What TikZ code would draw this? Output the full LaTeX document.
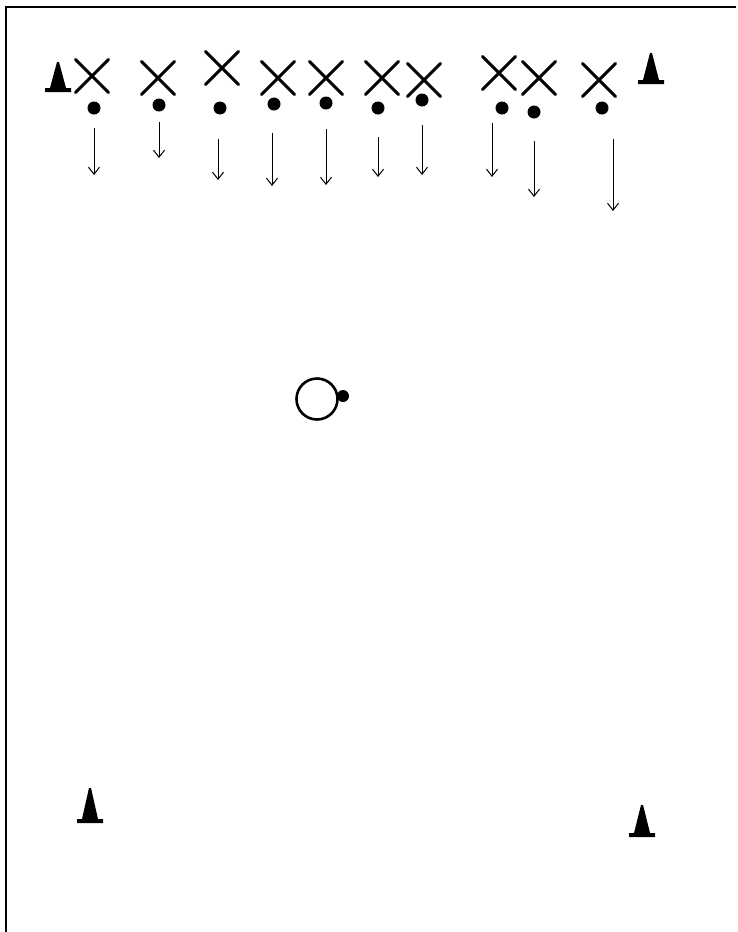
\documentclass[tikz,border=0pt]{standalone}
\usepackage{tikz}
\usetikzlibrary{shapes.misc,arrows.meta}

\tikzset{
  player/.style={cross out, draw, line width=3pt, line cap=round, minimum size=33pt, inner sep=0pt, outer sep=0pt},
  ball/.style={circle, fill, inner sep=0pt, minimum size=13pt},
  run/.style={line width=1pt, -{Straight Barb[length=7pt,width=11pt,line width=1pt]}},
}

\begin{document}
\begin{tikzpicture}[x=1pt, y=-1pt]
  \useasboundingbox (0,0) rectangle (738,932);
  % frame (only top and left edge show)
  \draw[line width=2pt] (6,932) -- (6,7) -- (736,7);

  % players, balls and runs
  \foreach \px/\py/\bx/\by/\ax/\ay/\az [count=\i] in {
      92/76/94/108/94/128/175,
      158/78/159/105/159/122/158,
      222/68/220/108/218/139/180,
      278/78/274/104/272/133/186,
      326/78/326/103/326/129/185,
      382/78/378/108/378/137/177,
      424/80/422/100/422/125/175,
      499/73/502/108/492/123/177,
      539/78/534/112/534/141/197,
      599/80/602/108/613/139/211} {
    \node[player] (p\i) at (\px,\py) {};
    \node[ball] (b\i) at (\bx,\by) {};
    \coordinate (r\i) at (\ax,\ay);
    \coordinate (t\i) at (\ax,\az);
    \draw[run] (r\i) -- (t\i);
  }

  % cones
  \foreach \cx/\cy/\ch in {58/92/30, 651/84/31, 90/823/35, 642/837/32} {
    \fill (\cx-13,\cy) -- (\cx+13,\cy) -- (\cx+13,\cy-4) -- (\cx+8,\cy-4)
      -- (\cx+1,\cy-\ch) -- (\cx-1,\cy-\ch) -- (\cx-8,\cy-4)
      -- (\cx-13,\cy-4) -- cycle;
  }

  % coach with ball
  \node[circle, draw, line width=2.6pt, minimum size=41pt, inner sep=0pt] (coach) at (317,399) {};
  \node[ball, minimum size=12pt] (cball) at (343,396) {};
\end{tikzpicture}
\end{document}
